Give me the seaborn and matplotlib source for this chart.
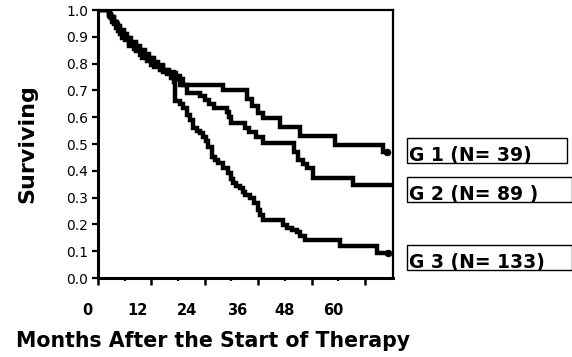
import numpy as np
import seaborn as sns
import matplotlib.pyplot as plt
from matplotlib.patches import Rectangle
from matplotlib.transforms import ScaledTranslation

# Kaplan-Meier style step curves (months, fraction surviving)
g1_months = [0, 2.8, 3.5, 4.5, 5.5, 7, 8.5, 10, 12, 14.5, 17, 19, 28, 33.5, 34.5,
             36, 37, 41, 45.4, 53.3, 64, 65]
g1_surv = [1.0, .974, .949, .923, .897, .872, .846, .821, .795, .769, .744, .72,
           .70, .667, .64, .615, .597, .563, .53, .496, .47, .47]

g2_months = [0, 2.5, 3.2, 4, 5, 6, 7, 8, 9.5, 11, 12.5, 14, 16, 17.5, 18.5, 20,
             23, 24, 25, 26, 29, 29.5, 30, 33, 34, 35.5, 37, 44, 45, 46, 47, 48.3,
             57.3, 66]
g2_surv = [1.0, .978, .955, .933, .91, .888, .865, .854, .831, .809, .787, .775,
           .764, .752, .72, .69, .678, .664, .65, .635, .62, .60, .578, .56, .545,
           .525, .504, .47, .44, .425, .41, .373, .347, .347]

g3_months = [0, 2.5, 3, 3.6, 4.2, 5, 5.8, 6.6, 7.5, 8.5, 9.5, 10.5, 11.5, 12.5,
             13.5, 14.5, 15.5, 16.5, 17, 17.3, 18.4, 19, 20, 20.6, 21.3, 22.2,
             22.9, 23.6, 24.3, 24.8, 25.6, 26.3, 27, 28, 29.2, 29.8, 30.3, 31,
             31.9, 32.5, 33, 34.2, 35, 36, 36.5, 37, 41.6, 42.5, 43.5, 44.7, 45.5,
             46.5, 54.4, 62.7, 65.2]
g3_surv = [1.0, .985, .97, .955, .94, .925, .91, .895, .88, .865, .85, .835, .82,
           .805, .79, .775, .76, .745, .73, .66, .65, .635, .61, .59, .56, .55,
           .54, .525, .51, .49, .45, .44, .43, .41, .39, .37, .354, .345, .336,
           .322, .31, .30, .28, .254, .235, .216, .198, .185, .18, .172, .158,
           .142, .119, .093, .093]

group_labels = ["G 1 (N= 39)", "G 2 (N= 89 )", "G 3 (N= 133)"]
x_ticks = [0, 12, 24, 36, 48, 60]
y_ticks = [0.0, 0.1, 0.2, 0.3, 0.4, 0.5, 0.6, 0.7, 0.8, 0.9, 1.0]

sns.set_style("ticks")
plt.rcParams["font.family"] = ["DejaVu Sans"]
plt.rcParams.update({"text.color": "black", "axes.labelcolor": "black",
                     "xtick.color": "black", "ytick.color": "black"})

W, H = 572, 357
fig = plt.figure(figsize=(W / 100, H / 100), dpi=100)
ax = fig.add_axes([98 / W, 1 - 278 / H, 295 / W, 268 / H])

for months, surv in [(g1_months, g1_surv), (g2_months, g2_surv), (g3_months, g3_surv)]:
    sns.lineplot(x=months, y=surv, ax=ax, drawstyle="steps-post", color="black",
                 lw=3.2, errorbar=None, solid_joinstyle="miter")

# small dots where G1 and G3 end
sns.scatterplot(x=[g1_months[-1], g3_months[-1]], y=[g1_surv[-1], g3_surv[-1]],
                ax=ax, color="black", s=25, edgecolor="black", zorder=5)

ax.set_xlim(0, 66.3)
ax.set_ylim(0, 1.0)

for side in ["left", "bottom"]:
    ax.spines[side].set_linewidth(2.2)
for side in ["top", "right"]:
    ax.spines[side].set_linewidth(1.6)
    ax.spines[side].set_visible(True)
for s in ax.spines.values():
    s.set_color("black")

ax.set_yticks(y_ticks, [f"{v:.1f}" for v in y_ticks])
ax.tick_params(axis="y", direction="out", length=4.5, width=1.6, pad=2.5,
               labelsize=10, colors="black")
ax.set_xticks(x_ticks, [str(v) for v in x_ticks])
ax.set_xticks([6, 18, 30, 42, 54], minor=True)
ax.tick_params(axis="x", which="major", direction="out", length=5, width=1.8,
               pad=13, labelsize=10.5, colors="black")
ax.tick_params(axis="x", which="minor", direction="out", length=2.5, width=1.6,
               colors="black")
for lab in ax.get_xticklabels():
    lab.set_fontweight("bold")

# the scanned tick labels sit progressively left of their ticks
shifts_px = [-11, -14, -18, -21, -27, -32]
for lab, dx in zip(ax.get_xticklabels(), shifts_px):
    lab.set_transform(lab.get_transform() + ScaledTranslation(dx / 100, 0, fig.dpi_scale_trans))

ax.set_xlabel("Months After the Start of Therapy", fontsize=14.8, fontweight="bold",
              ha="center", va="top", color="black")
ax.xaxis.set_label_coords((213 - 98) / 295, (278 - 331) / 268)
ax.set_ylabel("Surviving", fontsize=16, fontweight="bold", color="black")
ax.yaxis.set_label_coords((37 - 98) / 295, 0.5)

# boxed group labels to the right of the plot
boxes = [(407, 138, 160), (407, 177, 165), (407, 245, 165)]
for (bx, by, bw), text in zip(boxes, group_labels):
    fig.add_artist(Rectangle((bx / W, 1 - (by + 25) / H), bw / W, 25 / H,
                             transform=fig.transFigure, fill=False,
                             edgecolor="black", lw=1.0))
    fig.text((bx + 2) / W, 1 - (by + 23) / H, text, fontsize=13.5,
             fontweight="bold", ha="left", va="baseline", color="black")

fig.savefig("out.png", dpi=100)
